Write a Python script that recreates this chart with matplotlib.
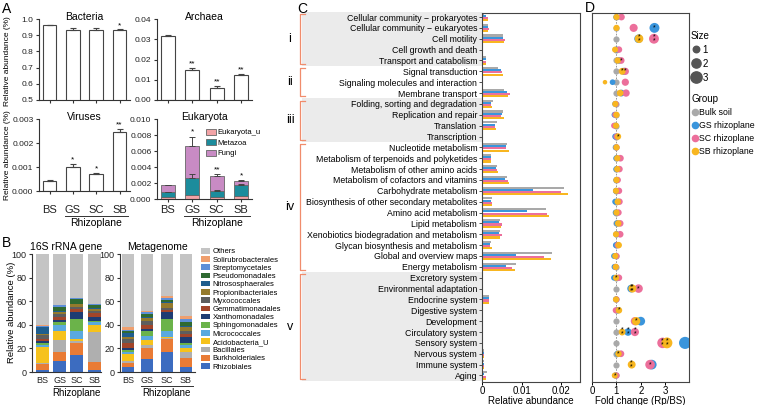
import numpy as np
import matplotlib
matplotlib.use('Agg')
import matplotlib.pyplot as plt
from matplotlib.patches import Rectangle, Patch
from matplotlib.lines import Line2D
import matplotlib.transforms as mtrans

plt.rcParams['font.family'] = ['Liberation Sans', 'DejaVu Sans']

# ---------------- data ----------------
groups = ['BS', 'GS', 'SC', 'SB']

bacteria = [0.960, 0.932, 0.932, 0.933]
bacteria_err = [0.001, 0.010, 0.010, 0.004]
bacteria_sig = ['', '', '', '*']

archaea = [0.0318, 0.0148, 0.0060, 0.0125]
archaea_err = [0.0003, 0.0011, 0.0007, 0.0003]
archaea_sig = ['', '**', '**', '**']

viruses = [0.00043, 0.00100, 0.00069, 0.00247]
viruses_err = [0.00003, 0.00012, 0.00004, 0.00010]
viruses_sig = ['', '*', '*', '**']

euk_u = [0.0003, 0.0005, 0.0002, 0.0004]
metazoa = [0.0006, 0.0021, 0.0008, 0.0013]
fungi = [0.0009, 0.0040, 0.0019, 0.0006]
metazoa_err = [0.0000, 0.0005, 0.0001, 0.0002]
euk_err = [0.0000, 0.0012, 0.0002, 0.0001]
euk_sig = ['', '*', '**', '*']

taxa = ['Rhizobiales', 'Burkholderiales', 'Bacillales', 'Acidobacteria_U',
        'Micrococcales', 'Sphingomonadales', 'Xanthomonadales', 'Gemmatimonadales',
        'Myxococcales', 'Propionibacteriales', 'Nitrososphaerales', 'Pseudomonadales',
        'Streptomycetales', 'Solirubrobacterales', 'Others']
taxa_colors = ['#3C6CC0', '#E97B35', '#AFAFAF', '#F6C21C', '#5AA9DF', '#6BB34A',
               '#1E3C73', '#A2452A', '#5E5E5E', '#957A2C', '#1F5E8E', '#2F6A31',
               '#5E8FD8', '#EF9F6E', '#C4C4C4']
# cumulative tops (%) per sample, in taxa order (Rhizobiales first)
cum_16s = {
    'BS': [2, 7, 8, 21, 23, 25, 26, 28, 31, 32, 38, 38.5, 39, 40, 100],
    'GS': [9.3, 17, 27.5, 35, 40, 42, 44, 47, 49.5, 51, 51.5, 55, 56.5, 57, 100],
    'SC': [14.5, 24.5, 26, 28, 35, 44.5, 50.5, 53, 55, 57.5, 58, 61.5, 62.5, 63, 100],
    'SB': [2, 8.5, 34, 39.5, 42, 43, 47, 50, 52, 53, 54, 56.5, 57.5, 58, 100],
}
cum_meta = {
    'BS': [4.3, 8, 9.5, 15, 17, 18.5, 20, 25, 28, 30, 33, 35, 35.5, 38, 100],
    'GS': [11, 20, 23, 27, 30.5, 34.5, 36.5, 39.5, 43.5, 45.5, 46.5, 49, 51, 52, 100],
    'SC': [17, 28, 29, 30, 35, 44.5, 50.5, 52.5, 54, 58.5, 59, 61, 63, 64.5, 100],
    'SB': [4.5, 12, 17, 20, 22.5, 25, 29.5, 32, 35, 38.5, 39, 42.5, 45, 47.5, 100],
}

pathways = ['Cellular community \u2212 prokaryotes', 'Cellular community \u2212 eukaryotes',
            'Cell motility', 'Cell growth and death', 'Transport and catabolism',
            'Signal transduction', 'Signaling molecules and interaction', 'Membrane transport',
            'Folding, sorting and degradation', 'Replication and repair', 'Translation',
            'Transcription', 'Nucleotide metabolism', 'Metabolism of terpenoids and polyketides',
            'Metabolism of other amino acids', 'Metabolism of cofactors and vitamins',
            'Carbohydrate metabolism', 'Biosynthesis of other secondary metabolites',
            'Amino acid metabolism', 'Lipid metabolism',
            'Xenobiotics biodegradation and metabolism', 'Glycan biosynthesis and metabolism',
            'Global and overview maps', 'Energy metabolism', 'Excretory system',
            'Environmental adaptation', 'Endocrine system', 'Digestive system', 'Development',
            'Circulatory system', 'Sensory system', 'Nervous system', 'Immune system', 'Aging']
path_groups = ['i', 'ii', 'iii', 'iv', 'v']
path_group_start = [0, 5, 8, 12, 24]
path_group_end = [4, 7, 11, 23, 33]
path_group_shaded = [True, False, True, False, True]

ra_bs = [0.0005, 0.0016, 0.0054, 0, 0.0009, 0.0041, 0, 0.0056, 0.0027, 0.0052, 0.0037, 0.0003,
         0.0064, 0.0022, 0.0037, 0.0062, 0.0208, 0.0025, 0.0162, 0.0046, 0.0046, 0.0022,
         0.0178, 0.0086, 0, 0.0001, 0.0018, 0, 0, 0, 0, 0.0006, 0.0005, 0.0012]
ra_gs = [0.0010, 0.0016, 0.0052, 0, 0.0009, 0.0047, 0, 0.0062, 0.0024, 0.0050, 0.0033, 0.0003,
         0.0061, 0.0022, 0.0035, 0.0059, 0.0128, 0.0023, 0.0115, 0.0044, 0.0044, 0.0020,
         0.0085, 0.0061, 0, 0.0001, 0.0018, 0, 0, 0, 0, 0.0006, 0.0005, 0.0005]
ra_sc = [0.0016, 0.0017, 0.0058, 0, 0.0009, 0.0050, 0, 0.0071, 0.0024, 0.0047, 0.0033, 0.0003,
         0.0061, 0.0024, 0.0039, 0.0066, 0.0200, 0.0026, 0.0165, 0.0050, 0.0050, 0.0020,
         0.0157, 0.0075, 0, 0.0001, 0.0018, 0, 0, 0, 0, 0.0006, 0.0005, 0.0010]
ra_sb = [0.0014, 0.0016, 0.0056, 0, 0.0009, 0.0052, 0, 0.0066, 0.0025, 0.0056, 0.0035, 0.0003,
         0.0068, 0.0023, 0.0040, 0.0068, 0.0218, 0.0026, 0.0170, 0.0049, 0.0046, 0.0025,
         0.0175, 0.0084, 0, 0.0001, 0.0018, 0, 0, 0, 0, 0.0006, 0.0005, 0.0010]

fc_gs = [1.0, 2.55, 1.9, 1.0, 1.1, 1.3, 0.84, 1.2, 0.95, 0.92, 0.95, 0.95, 0.97, 1.0, 1.0, 1.0,
         0.98, 0.95, 0.97, 1.03, 1.0, 0.98, 0.9, 0.92, 0.9, 1.6, 0.98, 1.05, 1.99, 1.47, 3.8,
         1.05, 2.44, 0.95]
fc_sc = [1.2, 1.7, 2.53, 1.1, 1.19, 1.36, 1.36, 1.39, 0.97, 0.95, 0.9, 1.0, 1.0, 1.16, 1.12,
         1.05, 1.1, 1.12, 1.08, 1.15, 1.15, 1.05, 1.0, 0.97, 1.1, 1.9, 1.0, 0.97, 1.75, 1.75,
         2.88, 1.18, 2.37, 1.0]
fc_sb = [1.0, 1.0, 1.92, 0.94, 1.05, 1.23, 0.53, 1.15, 0.95, 1.0, 0.98, 1.06, 1.0, 1.03, 1.03,
         1.0, 0.98, 1.05, 1.0, 1.07, 0.98, 1.09, 0.95, 0.97, 0.98, 1.65, 0.98, 1.1, 1.8, 1.23,
         3.06, 1.08, 1.62, 0.93]
sig_gs = {1: '*', 25: '**', 29: '**'}
sig_sc = {2: '**', 4: '*', 5: '*', 25: '*', 29: '**', 30: '**', 32: '*'}
sig_sb = {2: '**', 5: '*', 11: '*', 24: '*', 25: '**', 27: '*', 28: '*', 29: '**', 30: '**',
          31: '*', 32: '**', 33: '*'}

c_bs, c_gs, c_sc, c_sb = '#A9A9A9', '#3A95DC', '#EC6F9B', '#F8B620'

# ---------------- figure ----------------
W, H = 760, 405
fig = plt.figure(figsize=(W / 100, H / 100), dpi=100)


def add_ax(l, t, r, b):
    return fig.add_axes([l / W, 1 - b / H, (r - l) / W, (b - t) / H])


def ftext(x, y, s, **kw):
    fig.text(x / W, 1 - y / H, s, **kw)


def style_prism(ax, fs=6):
    for s in ['top', 'right']:
        ax.spines[s].set_visible(False)
    for s in ['left', 'bottom']:
        ax.spines[s].set_linewidth(0.8)
        ax.spines[s].set_color('#333333')
    ax.tick_params(axis='both', labelsize=fs, length=2.5, width=0.8, color='#333333', pad=1.5,
                   labelcolor='#222222')


edge = '#444444'
x = np.arange(4)


def simple_bars(ax, vals, errs, sigs, ylim, yticks, fmt, title, pad):
    ax.bar(x, vals, width=0.58, color='white', edgecolor=edge, lw=0.8,
           yerr=[[0] * 4, errs], error_kw=dict(elinewidth=0.8, capsize=2, capthick=0.8, ecolor=edge))
    for i in range(4):
        if sigs[i]:
            ax.text(x[i], vals[i] + errs[i] + pad, sigs[i], ha='center', va='bottom', fontsize=6)
    ax.set_ylim(*ylim)
    ax.set_yticks(yticks)
    ax.set_yticklabels([fmt % t for t in yticks])
    ax.set_xlim(-0.45, 3.45)
    ax.set_xticks(x)
    style_prism(ax)
    ax.text(0.5, 1.03, title, transform=ax.transAxes, ha='center', va='center', fontsize=7.5)


axb = add_ax(39, 19, 130, 100)
simple_bars(axb, bacteria, bacteria_err, bacteria_sig, (0.5, 1.0), np.arange(0.5, 1.01, 0.1),
            '%.1f', 'Bacteria', 0.0)
axb.set_xticklabels([])
axa = add_ax(157, 19, 252, 100)
simple_bars(axa, archaea, archaea_err, archaea_sig, (0, 0.04), np.arange(0, 0.041, 0.01),
            '%.2f', 'Archaea', 0.0003)
axa.set_xticklabels([])
axv = add_ax(39, 119, 130, 191)
simple_bars(axv, viruses, viruses_err, viruses_sig, (0, 0.003), np.arange(0, 0.0031, 0.001),
            '%.3f', 'Viruses', 0.00003)

axe = add_ax(157, 119, 252, 199)
b1 = np.array(euk_u)
b2 = b1 + np.array(metazoa)
b3 = b2 + np.array(fungi)
axe.bar(x, euk_u, width=0.58, color='#F2A3A6', edgecolor='#666666', lw=0.6, label='Eukaryota_u')
axe.bar(x, metazoa, bottom=b1, width=0.58, color='#1C8C9C', edgecolor='#666666', lw=0.6,
        label='Metazoa', yerr=[[0] * 4, metazoa_err],
        error_kw=dict(elinewidth=0.7, capsize=2, capthick=0.7, ecolor=edge))
axe.bar(x, fungi, bottom=b2, width=0.58, color='#C88BC4', edgecolor='#666666', lw=0.6,
        label='Fungi', yerr=[[0] * 4, euk_err],
        error_kw=dict(elinewidth=0.7, capsize=2, capthick=0.7, ecolor=edge))
for i in range(4):
    if euk_sig[i]:
        axe.text(x[i], b3[i] + euk_err[i] + 0.0001, euk_sig[i], ha='center', va='bottom', fontsize=6)
axe.set_ylim(0, 0.010)
axe.set_yticks(np.arange(0, 0.0101, 0.002))
axe.set_yticklabels(['%.3f' % t for t in np.arange(0, 0.0101, 0.002)])
axe.set_xlim(-0.45, 3.45)
axe.set_xticks(x)
style_prism(axe)
axe.text(0.5, 1.03, 'Eukaryota', transform=axe.transAxes, ha='center', va='center', fontsize=7.5)
h, l = axe.get_legend_handles_labels()
axe.legend(h, l, loc='upper left', bbox_to_anchor=(0.52, 0.88), fontsize=5.5, frameon=False,
           handlelength=1.2, handleheight=0.9, handletextpad=0.3, labelspacing=0.35,
           borderaxespad=0, borderpad=0)

for ax, bot in [(axv, 191), (axe, 199)]:
    ax.set_xticklabels(groups, fontsize=8)
    ax.tick_params(axis='x', pad=max(0.5, (205 - bot - 3.5) / 1.389))
    tr = mtrans.blended_transform_factory(ax.transData, fig.transFigure)
    ax.add_line(Line2D([0.65, 3.35], [1 - 216 / H] * 2, transform=tr, color='#333333', lw=0.7,
                       clip_on=False))
    ax.text(2, 1 - 223 / H, 'Rhizoplane', transform=tr, ha='center', va='center', fontsize=7.5)

ftext(8, 61, 'Relative abundance (%)', rotation=90, ha='center', va='center', fontsize=6)
ftext(8, 155, 'Relative abundance (%)', rotation=90, ha='center', va='center', fontsize=6)

# ---------------- panel B ----------------
def stacked(ax, cum, xlim, width, title):
    for j, g in enumerate(groups):
        tops = np.array(cum[g], dtype=float)
        bots = np.concatenate([[0], tops[:-1]])
        ax.bar([j] * len(tops), tops - bots, bottom=bots, width=width, color=taxa_colors, lw=0)
    ax.set_ylim(0, 100)
    ax.set_yticks(np.arange(0, 101, 20))
    ax.set_xlim(*xlim)
    ax.set_xticks(x)
    ax.set_xticklabels(groups, fontsize=7.5)
    style_prism(ax, fs=6.5)
    ax.tick_params(axis='x', length=0, pad=3)
    ax.text(0.5, 1.06, title, transform=ax.transAxes, ha='center', va='center', fontsize=7.5)
    tr = mtrans.blended_transform_factory(ax.transData, fig.transFigure)
    ax.add_line(Line2D([0.65, 3.35], [1 - 386 / H] * 2, transform=tr, color='#333333', lw=0.7,
                       clip_on=False))
    ax.text(2, 1 - 393 / H, 'Rhizoplane', transform=tr, ha='center', va='center', fontsize=7)


ax16 = add_ax(32, 254, 101, 372)
stacked(ax16, cum_16s, (-0.61, 3.4), 0.75, '16S rRNA gene')
axm = add_ax(120, 254, 195, 372)
stacked(axm, cum_meta, (-0.42, 3.47), 0.63, 'Metagenome')
ftext(12, 312, 'Relative abundance (%)', rotation=90, ha='center', va='center', fontsize=6.8)

handles = [Patch(facecolor=c, edgecolor='none') for c in taxa_colors][::-1]
fig.legend(handles, taxa[::-1], loc='upper left', bbox_to_anchor=(201 / W, 1 - 248 / H),
           fontsize=5.5, frameon=False, handlelength=1.2, handleheight=0.75, handletextpad=0.35,
           labelspacing=0.1, borderpad=0, borderaxespad=0)

# ---------------- panel C ----------------
axc = add_ax(482, 13, 580, 382)
yy = np.arange(len(pathways))
bh = 0.19
for k, (vals, c) in enumerate([(ra_bs, c_bs), (ra_gs, c_gs), (ra_sc, c_sc), (ra_sb, c_sb)]):
    axc.barh(yy + (k - 1.5) * 0.2, vals, height=bh, color=c, lw=0)
axc.set_ylim(33.6, -0.37)
axc.set_xlim(0, 0.0248)
axc.set_xticks([0, 0.01, 0.02])
axc.set_xticklabels(['0', '0.01', '0.02'])
axc.set_yticks(yy)
axc.set_yticklabels(pathways, fontsize=6.35)
axc.tick_params(axis='y', length=2, width=0.6, pad=1.5, color='#333333')
axc.tick_params(axis='x', labelsize=7, length=2, width=0.7, pad=1)
for s in axc.spines.values():
    s.set_linewidth(0.8)
    s.set_color('#444444')
axc.set_xlabel('Relative abundance', fontsize=7, labelpad=0)

trc = mtrans.blended_transform_factory(fig.transFigure, axc.transData)
for name, st, en, sh in zip(path_groups, path_group_start, path_group_end, path_group_shaded):
    if sh:
        fig.add_artist(Rectangle((302 / W, st - 0.5), (482 - 302) / W, en - st + 1,
                                 transform=trc, facecolor='#EBEBEB', edgecolor='none', zorder=-1))
    y0, y1 = st - 0.5 + 0.2, en + 0.5 - 0.2
    fig.add_artist(Line2D([305 / W, 300 / W, 300 / W, 305 / W], [y0, y0, y1, y1], transform=trc,
                          color='#F08C6C', lw=0.9))
    fig.text(290 / W, (st + en) / 2, name, transform=trc, ha='center', va='center', fontsize=9)

# ---------------- panel D ----------------
axd = add_ax(592, 13, 689, 382)
axd.axvline(1, color='#888888', lw=0.6, ls=(0, (2, 1.5)), zorder=0)
axd.scatter(np.ones(len(pathways)), yy, s=20, color=c_bs, lw=0, zorder=1)
for vals, c, sig in [(fc_gs, c_gs, sig_gs), (fc_sc, c_sc, sig_sc), (fc_sb, c_sb, sig_sb)]:
    v = np.array(vals)
    axd.scatter(v, yy, s=20 * v, color=c, lw=0, zorder=2)
    for i, s in sig.items():
        axd.text(v[i], yy[i], '\n'.join(s), ha='center', va='center', fontsize=5,
                 linespacing=0.45, zorder=3)
axd.set_ylim(33.6, -0.37)
axd.set_xlim(0, 3.96)
axd.set_xticks([0, 1, 2, 3])
axd.set_yticks([])
axd.tick_params(axis='x', labelsize=7, length=2, width=0.7, pad=1)
for s in axd.spines.values():
    s.set_linewidth(0.8)
    s.set_color('#444444')
axd.set_xlabel('Fold change (Rp/BS)', fontsize=7, labelpad=0)

size_h = [Line2D([], [], marker='o', ls='', color='#555555', markersize=np.sqrt(22 * v))
          for v in [1, 2, 3]]
lg1 = fig.legend(size_h, ['1', '2', '3'], title='Size', loc='upper left',
                 bbox_to_anchor=(691 / W, 1 - 31 / H), fontsize=7, title_fontsize=7,
                 frameon=False, handletextpad=0.2, labelspacing=0.4, borderpad=0,
                 borderaxespad=0, handlelength=1.0)
lg1._legend_box.align = 'left'
grp_h = [Line2D([], [], marker='o', ls='', color=c, markersize=np.sqrt(20))
         for c in [c_bs, c_gs, c_sc, c_sb]]
lg2 = fig.legend(grp_h, ['Bulk soil', 'GS rhizoplane', 'SC rhizoplane', 'SB rhizoplane'],
                 title='Group', loc='upper left', bbox_to_anchor=(691 / W, 1 - 94 / H),
                 fontsize=6.3, title_fontsize=7, frameon=False, handletextpad=0.1,
                 labelspacing=0.45, borderpad=0, borderaxespad=0, handlelength=0.8)
lg2._legend_box.align = 'left'

# panel letters
ftext(2, 9, 'A', fontsize=10, va='center')
ftext(2, 243, 'B', fontsize=10, va='center')
ftext(297, 9, 'C', fontsize=10, va='center')
ftext(585, 8, 'D', fontsize=10, va='center')

fig.savefig('out.png', dpi=100)
